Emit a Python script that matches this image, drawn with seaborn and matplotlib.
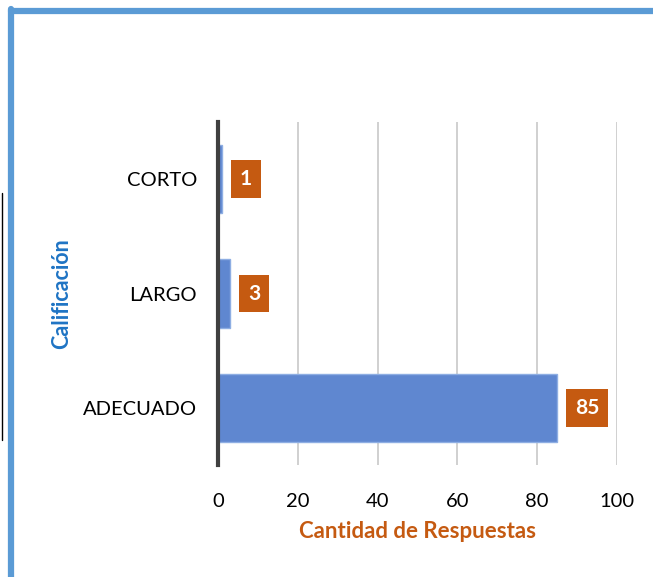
import matplotlib
matplotlib.use("Agg")
import matplotlib.pyplot as plt
import seaborn as sns
import pandas as pd
from matplotlib.lines import Line2D

# datos
categorias = ["CORTO", "LARGO", "ADECUADO"]
respuestas = [1, 3, 85]
ticks_x = [0, 20, 40, 60, 80, 100]

sns.set_style("white")
plt.rcParams['font.family'] = ['Lato', 'DejaVu Sans']

df = pd.DataFrame({"Calificación": categorias, "Cantidad": respuestas})

fig = plt.figure(figsize=(6.53, 5.77), dpi=100)
ax = fig.add_axes([0.3338, 0.194, 0.6111, 0.5946])

sns.barplot(data=df, x="Cantidad", y="Calificación", orient="h", color="#5f87d0",
            width=0.6, saturation=1, edgecolor="#8eaee3", linewidth=1, ax=ax, zorder=3)

ax.set_xlim(0, 100)
ax.set_xticks(ticks_x)
ax.grid(axis="x", color="#c8c8c8", linewidth=1.2, zorder=0)
for s in ["top", "right", "bottom"]:
    ax.spines[s].set_visible(False)
ax.spines["left"].set_color("#404040")
ax.spines["left"].set_linewidth(3)
ax.spines["left"].set_zorder(5)
ax.tick_params(axis="both", length=0, labelsize=14.5, colors="black")
ax.tick_params(axis="x", pad=20)
ax.tick_params(axis="y", pad=15)

ax.set_xlabel("Cantidad de Respuestas", color="#c55a11", fontsize=16, fontweight="bold", labelpad=8)
ax.set_ylabel("Calificación", color="#1f74c4", fontsize=15.5, fontweight="bold")
ax.yaxis.set_label_coords(-0.366, 0.5)

for i, v in enumerate(respuestas):
    ax.annotate(str(v), xy=(v, i), xytext=(13, 0), textcoords="offset points",
                va="center", ha="left", color="white", fontsize=15, fontweight="bold",
                bbox=dict(boxstyle="square,pad=0.42", fc="#c55a11", ec="none"), zorder=6)

# marco azul y linea negra
fig.add_artist(Line2D([10.5 / 653, 1], [1 - 10.5 / 577, 1 - 10.5 / 577], color="#5b9bd5", linewidth=4.5))
fig.add_artist(Line2D([10.5 / 653, 10.5 / 653], [0, 1 - 10.5 / 577 + 0.003], color="#5b9bd5", linewidth=4.5))
fig.add_artist(Line2D([1.5 / 653, 1.5 / 653], [1 - 193 / 577, 1 - 440 / 577], color="black", linewidth=1))

fig.savefig("out.png", dpi=100)
